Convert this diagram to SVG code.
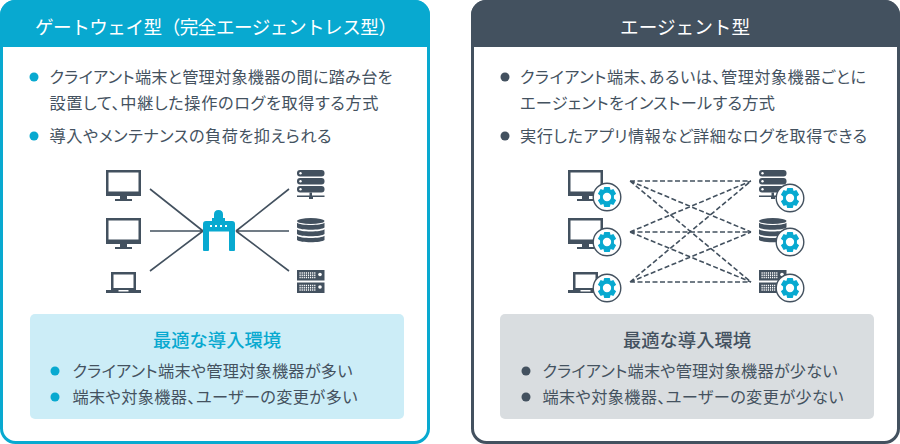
<svg xmlns="http://www.w3.org/2000/svg" xmlns:xlink="http://www.w3.org/1999/xlink" width="900" height="444" viewBox="0 0 900 444">
<style>
text{font-family:"Noto Sans CJK JP","Noto Sans",sans-serif}
.t{font-size:18.6px;fill:#fff}
.b{font-size:16.2px;fill:#44525f;font-feature-settings:"palt"}
.h{font-size:18.300px;font-weight:500;text-anchor:middle}
.c{fill:#08a9d0}.d{fill:#43515f}
.ln{stroke:#43515f;stroke-width:1.6;fill:none}
.dl{stroke:#43515f;stroke-width:1.6;fill:none;stroke-dasharray:5 2.5}
</style>
<defs>
<g id="pc"><path class="d" fill-rule="evenodd" d="M0 0H35V26H0ZM2.500 2.500V21.500H32.500V2.500Z"/><path class="d" d="M14 26H21V29H26V31H9V29H14Z"/></g>
<g id="nb"><path class="d" fill-rule="evenodd" d="M5 0H30V18H5ZM7.500 2.500V16H27.500V2.500Z"/><path class="d" d="M0 18H12.500V19.500H22.500V18H35V21H0Z"/></g>
<g id="sv"><rect class="d" x="0" y="0" width="27.500" height="6.500" rx="3"/><rect class="d" x="0" y="8" width="27.500" height="6.500" rx="3"/><rect class="d" x="0" y="16" width="27.500" height="6.500" rx="3"/><circle cx="3.500" cy="3.200" r="1.200" fill="#fff"/><circle cx="3.500" cy="11.200" r="1.200" fill="#fff"/><circle cx="3.500" cy="19.200" r="1.200" fill="#fff"/><path class="d" d="M12.500 22.500H15V25.500H27.500V27H16V29H12V27H0V25.500H12.500Z"/></g>
<g id="db"><ellipse class="d" cx="13.750" cy="3" rx="13.750" ry="3"/><path class="d" d="M0 4.800C3 7.800 24.500 7.800 27.500 4.800V9.500C24.500 12.500 3 12.500 0 9.500Z"/><path class="d" d="M0 11.300C3 14.300 24.500 14.300 27.500 11.300V16C24.500 19 3 19 0 16Z"/><path class="d" d="M0 17.800C3 20.800 24.500 20.800 27.500 17.800V22C24.500 25 3 25 0 22Z"/></g>
<g id="rk"><g id="rk1"><rect class="d" x="0" y="0" width="27.500" height="10.500"/><path stroke="#fff" stroke-width="1.500" stroke-dasharray="1.200 .9" d="M2.500 3H19M2.500 5.300H19M2.500 7.600H19" fill="none"/><circle cx="23" cy="4.500" r="1.800" fill="#fff"/></g><use xlink:href="#rk1" y="12.500"/></g>
<g id="ag"><circle cx="0" cy="0" r="13.800" fill="#fff" stroke="#43515f" stroke-width="1.400"/><path class="c" fill-rule="evenodd" transform="scale(1.100)" d="M-2.500-9H2.500L3.300-6.300L5.800-7.300L8.300-3L6.300-1.300V1.300L8.300 3L5.800 7.300L3.300 6.300L2.500 9H-2.500L-3.300 6.300L-5.800 7.300L-8.300 3L-6.300 1.300V-1.300L-8.300-3L-5.800-7.300L-3.300-6.300ZM0-3.800A3.800 3.800 0 1 0 0 3.800A3.800 3.800 0 1 0 0-3.800Z"/></g>
</defs>

<g id="panel-gateway">
<rect x="1.500" y="1.500" width="427" height="441" rx="14" fill="#fff" stroke="#08a9d0" stroke-width="3"/>
<path class="c" d="M0 47V15A15 15 0 0 1 15 0H415A15 15 0 0 1 430 15V47Z"/>
<text class="t" x="35" y="34" textLength="362">ゲートウェイ型（完全エージェントレス型）</text>
</g>
<g id="text-gateway">
<circle class="c" cx="34" cy="77" r="4.500"/>
<text class="b" x="49.500" y="83" textLength="343">クライアント端末と管理対象機器の間に踏み台を</text>
<text class="b" x="49.500" y="109" textLength="329">設置して、中継した操作のログを取得する方式</text>
<circle class="c" cx="34" cy="136" r="4.500"/>
<text class="b" x="49.500" y="142" textLength="282">導入やメンテナンスの負荷を抑えられる</text>
</g>
<g id="connectors-gateway">
<path class="ln" d="M150 189L203 231M150 231H203M150 271L203 231M236 231L289 189M236 231H289M236 231L289 271"/>
</g>
<g id="devices-gateway">
<use xlink:href="#pc" x="106" y="170"/>
<use xlink:href="#pc" x="106" y="218"/>
<use xlink:href="#nb" x="106" y="272"/>
<use xlink:href="#sv" x="297" y="170"/>
<use xlink:href="#db" x="297" y="218"/>
<use xlink:href="#rk" x="297" y="270"/>
</g>
<g id="gateway-node">
<path class="c" d="M203 224Q203 221 206 221H232Q235 221 235 224V250Q235 251 234 251H230Q229 251 229 250V231.500H209V250Q209 251 208 251H204Q203 251 203 250Z"/>
<path class="c" d="M214 218V214.500Q214 210 218.500 210Q223 210 223 214.500V218H225V221H212V218Z"/>
<path fill="#fff" d="M210 225h2v2h-2zM215 225h2v2h-2zM220 225h2v2h-2zM225 225h2v2h-2z"/>
</g>
<g id="env-gateway">
<rect x="30" y="314" width="374" height="105" rx="5" fill="#ccedf7"/>
<text class="h c" x="217" y="347">最適な導入環境</text>
<circle class="c" cx="55" cy="371" r="4.500"/>
<text class="b" x="72.500" y="377" textLength="280">クライアント端末や管理対象機器が多い</text>
<circle class="c" cx="55" cy="397" r="4.500"/>
<text class="b" x="72.500" y="403" textLength="285">端末や対象機器、ユーザーの変更が多い</text>
</g>

<g id="panel-agent">
<rect x="472.500" y="1.500" width="426" height="441" rx="14" fill="#fff" stroke="#43515f" stroke-width="3"/>
<path class="d" d="M471 47V15A15 15 0 0 1 486 0H885A15 15 0 0 1 900 15V47Z"/>
<text class="t" x="620" y="34" textLength="130">エージェント型</text>
</g>
<g id="text-agent">
<circle class="d" cx="505" cy="77" r="4.500"/>
<text class="b" x="520" y="83" textLength="346">クライアント端末、あるいは、管理対象機器ごとに</text>
<text class="b" x="520" y="109" textLength="255">エージェントをインストールする方式</text>
<circle class="d" cx="505" cy="136" r="4.500"/>
<text class="b" x="520" y="142" textLength="347">実行したアプリ情報など詳細なログを取得できる</text>
</g>
<g id="connectors-agent">
<path class="dl" d="M630 181H751M630 181L751 232M630 181L751 282M630 232L751 181M630 232H751M630 232L751 282M630 282L751 181M630 282L751 232M630 282H751"/>
</g>
<g id="devices-agent">
<use xlink:href="#pc" x="568" y="170"/><use xlink:href="#ag" x="607" y="197"/>
<use xlink:href="#pc" x="568" y="218"/><use xlink:href="#ag" x="607" y="242"/>
<use xlink:href="#nb" x="568" y="272"/><use xlink:href="#ag" x="607" y="288"/>
<use xlink:href="#sv" x="759" y="170"/><use xlink:href="#ag" x="790" y="198"/>
<use xlink:href="#db" x="759" y="218"/><use xlink:href="#ag" x="790" y="242"/>
<use xlink:href="#rk" x="759" y="270"/><use xlink:href="#ag" x="790" y="288"/>
</g>
<g id="env-agent">
<rect x="500" y="314" width="374" height="105" rx="5" fill="#d9dde0"/>
<text class="h d" x="687" y="347">最適な導入環境</text>
<circle class="d" cx="526" cy="371" r="4.500"/>
<text class="b" x="542.500" y="377" textLength="295">クライアント端末や管理対象機器が少ない</text>
<circle class="d" cx="526" cy="397" r="4.500"/>
<text class="b" x="542.500" y="403" textLength="301">端末や対象機器、ユーザーの変更が少ない</text>
</g>
</svg>
